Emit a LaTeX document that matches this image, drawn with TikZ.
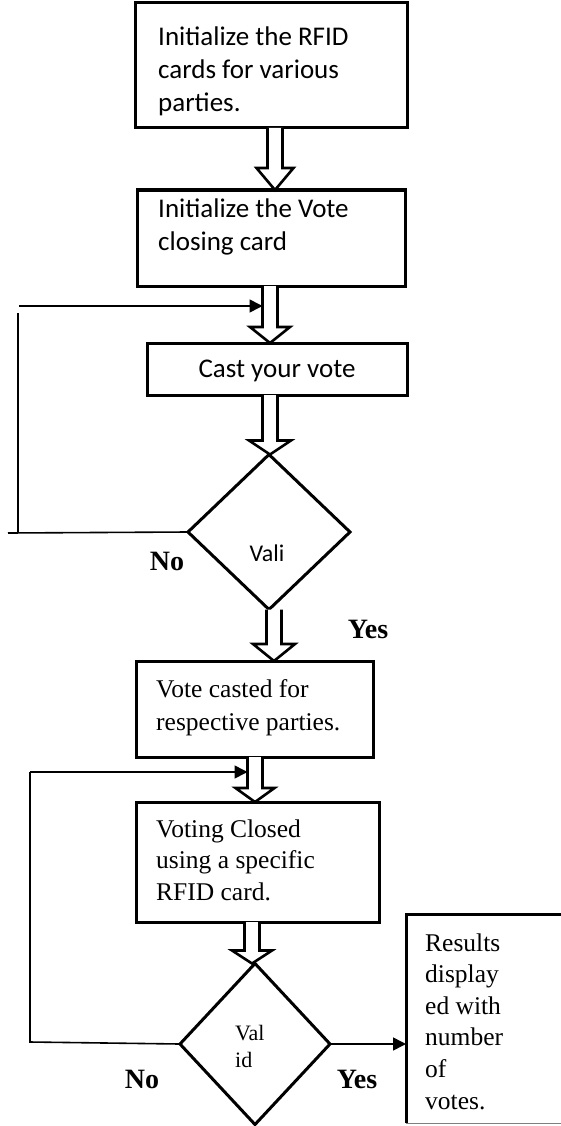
\documentclass[tikz,border=0pt]{standalone}
\usepackage{fontspec}
\setmainfont{Liberation Serif}
\newfontfamily\calfont{Carlito}
\usetikzlibrary{shapes.geometric,arrows.meta,calc}
\newcommand\blockarrow[5]{%
  \draw[blk] let \p1=(#1.south), \p2=(#2.north) in
    (#3pt-7.5pt,\y1) -- (#3pt-7.5pt,\y2+#4pt) -- (#3pt-#5pt,\y2+#4pt) --
    (#3pt,\y2) -- (#3pt+#5pt,\y2+#4pt) -- (#3pt+7.5pt,\y2+#4pt) -- (#3pt+7.5pt,\y1);}
\begin{document}
\begin{tikzpicture}[x=1pt,y=-1pt,
  box/.style={draw,line width=3pt,inner sep=0pt,outer sep=0pt,anchor=north west},
  dia/.style={draw,diamond,line width=3pt,inner sep=0pt,outer sep=0pt},
  blk/.style={draw,line width=2.6pt,fill=white,line join=miter},
  conn/.style={line width=1.6pt},
  arr/.style={conn,-{Triangle[length=13pt,width=13pt]}},
  caltxt/.style={font=\calfont\fontsize{27}{33}\selectfont,inner sep=0pt,align=left},
  tnrtxt/.style={font=\fontsize{25.5}{32.5}\selectfont,inner sep=0pt,align=left},
  yn/.style={font=\bfseries\fontsize{28}{30}\selectfont,inner sep=0pt,anchor=base}]
\useasboundingbox (0,0) rectangle (561,1126);
\clip (0,0) rectangle (561,1126);

% boxes
\node[box,minimum width=272,minimum height=125] (b1) at (135,3) {};
\node[box,minimum width=268,minimum height=96] (b2) at (137,190) {};
\node[box,minimum width=260,minimum height=52] (b3) at (147,343) {};
\node[box,minimum width=237,minimum height=96] (b4) at (136,661) {};
\node[box,minimum width=243,minimum height=120] (b5) at (136,802) {};
\node[inner sep=0pt,outer sep=0pt,minimum width=220,minimum height=209,anchor=north west] (b6) at (406,914) {};
\draw[line width=3pt] (b6.south west) -- (b6.north west) -- (b6.north east);
\draw[line width=0.8pt,gray] (b6.south west) -- (b6.south east);

% diamonds
\node[dia,minimum width=162,minimum height=155] (d1) at (269,532) {};
\node[dia,minimum width=150,minimum height=161] (d2) at (255,1044) {};

% texts (multi-line nodes: base = last line's baseline)
\node[caltxt,anchor=base west] (t1) at (158,112) {Initialize the RFID\\cards for various\\parties.};
\node[caltxt,anchor=base west] (t2) at (158,250) {Initialize the Vote\\closing card};
\node[caltxt,anchor=base] (t3) at (277,377) {Cast your vote};
\node[font=\calfont\fontsize{24}{26}\selectfont,inner sep=0pt,anchor=base] (t3v) at (267,561) {Vali};
\node[tnrtxt,anchor=base west] (t4) at (156,730) {Vote casted for\\respective parties.};
\node[font=\fontsize{25.5}{31.5}\selectfont,inner sep=0pt,align=left,anchor=base west] (t5) at (156,900) {Voting Closed\\using a specific\\RFID card.};
\node[font=\fontsize{25.5}{31.6}\selectfont,inner sep=0pt,align=left,anchor=base west] (t6) at (425,1109) {Results\\display\\ed with\\number\\of\\votes.};
\node[font=\fontsize{22}{27}\selectfont,inner sep=0pt,align=left,anchor=base west] (t6v) at (235,1067) {Val\\id};

\node[yn] (no1) at (167,570) {No};
\node[yn] (yes1) at (368,638) {Yes};
\node[yn] (no2) at (142,1088) {No};
\node[yn] (yes2) at (357,1088) {Yes};

% block arrows
\blockarrow{b1}{b2}{275}{22}{18.5}
\blockarrow{b2}{b3}{270}{16}{20}
\blockarrow{b3}{d1}{270}{14}{21}
\blockarrow{d1}{b4}{274}{17}{21}
\blockarrow{b4}{b5}{255}{14}{19.5}
\blockarrow{b5}{d2}{252}{13}{20}

% loop 1
\coordinate (l1a) at (8,533);
\coordinate (l1b) at (18,533);
\coordinate (l1c) at (18,313);
\coordinate (l1d) at (19,306);
\coordinate (a2w) at (262.5,306);
\draw[conn] (d1.west) -- (l1a);
\draw[conn] (l1b) -- (l1c);
\draw[arr] (l1d) -- (a2w);

% loop 2
\coordinate (l2a) at (30,1042);
\coordinate (l2b) at (30,772);
\coordinate (a5w) at (247.5,772);
\draw[conn] (d2.west) -- (l2a) -- (l2b);
\draw[arr] (l2b) -- (a5w);

% yes arrow
\draw[arr] (d2.east) -- (b6.west |- d2.east);
\end{tikzpicture}
\end{document}
